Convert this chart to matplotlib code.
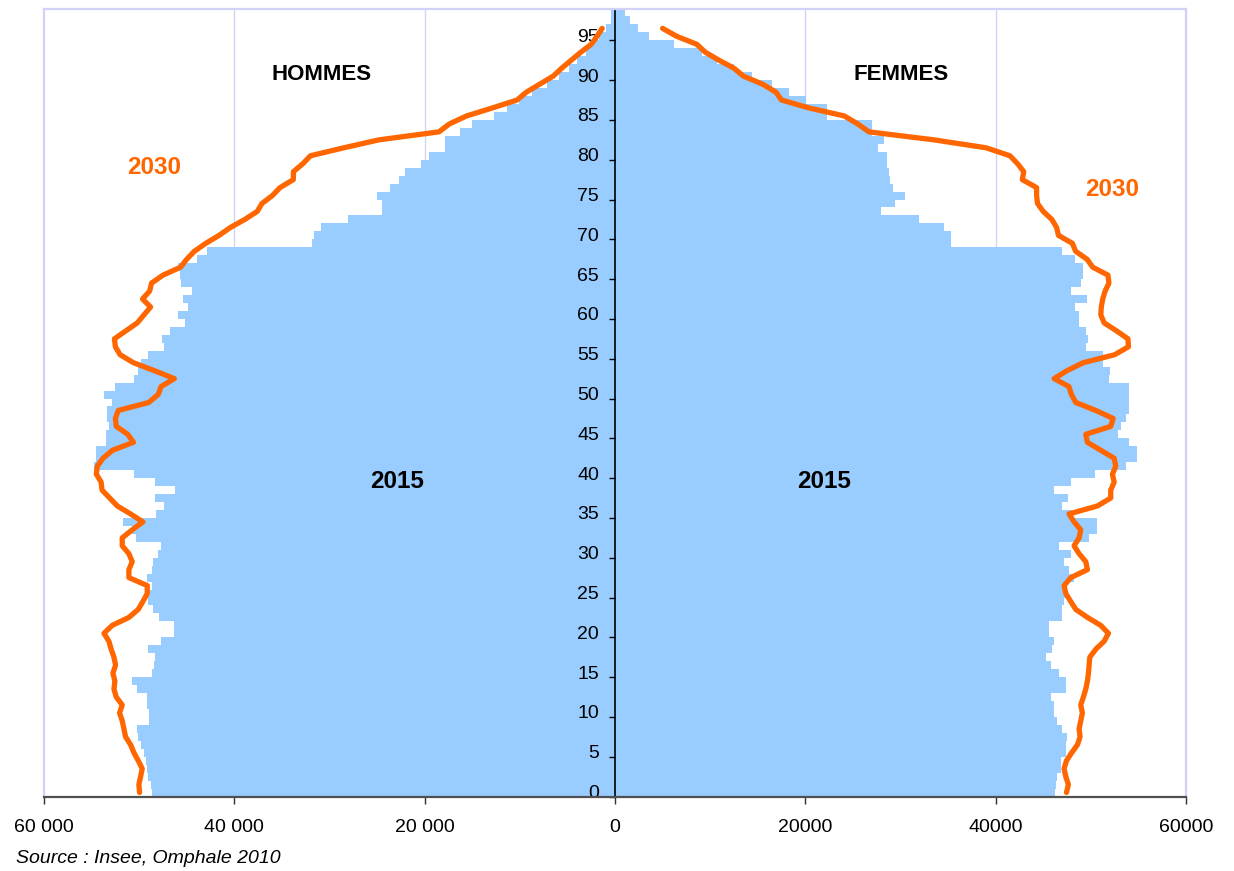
import numpy as np
import matplotlib
matplotlib.use("Agg")
import matplotlib.pyplot as plt
from matplotlib.transforms import ScaledTranslation

# ---------------- data ----------------
ages = list(range(99))

hommes_2015 = [
    48630, 48800, 49080, 49150, 49330, 49500, 49850, 50090, 50200, 48980,
    48980, 49150, 49150, 50200, 50730, 48700, 48460, 48350, 49050, 47750,
    46350, 46350, 47930, 48560, 49050, 49050, 48630, 49150, 48700, 48560,
    48000, 47750, 50300, 50800, 51710, 48280, 47400, 48350, 46240, 48350,
    50550, 54760, 54580, 54510, 53530, 53530, 53180, 53360, 53360, 52830,
    53700, 52550, 50550, 50100, 49850, 49050, 47400, 47580, 46770, 45200,
    45900, 44840, 45370, 44420, 45650, 45760, 45900, 43900, 42850, 31880,
    31640, 30900, 28030, 24460, 24460, 24980, 23680, 22700, 22070, 20420,
    19550, 17870, 17870, 16290, 15000, 12720, 11320, 10090, 8690, 7110,
    5890, 4830, 3960, 3080, 2560, 1680, 980, 450, 450,
]

femmes_2015 = [
    46240, 46310, 46400, 46840, 46840, 47370, 47370, 47540, 47010, 46490,
    46140, 46140, 45790, 47370, 47370, 46660, 45790, 45260, 45960, 46140,
    45610, 45610, 47010, 47010, 47190, 47370, 47370, 48240, 47710, 47190,
    47890, 46660, 49820, 50690, 50690, 48060, 47010, 47640, 46140, 47890,
    50450, 53740, 54900, 54900, 54020, 52900, 53140, 53670, 54020, 54020,
    53990, 53990, 51920, 52030, 51290, 51290, 49470, 49750, 49540, 48770,
    48770, 48350, 49570, 47960, 48940, 49220, 49220, 48310, 47010, 35310,
    35310, 34580, 31950, 27960, 29430, 30480, 29220, 28870, 28800, 28620,
    28620, 27680, 28270, 27000, 27000, 22300, 22300, 20040, 18290, 16540,
    14440, 12510, 10760, 9180, 6200, 3570, 2420, 1540, 1100,
]

ages_2030 = list(range(97))

hommes_2030 = [
    49960, 50030, 49850, 49680, 50100, 50550, 50900, 51430, 51600, 51780,
    52060, 51780, 52410, 52650, 52550, 52760, 52480, 52650, 52940, 53180,
    53700, 52830, 51080, 50100, 49610, 49150, 49150, 51080, 51080, 50730,
    51080, 51780, 51780, 50730, 49610, 50900, 52300, 53100, 53900, 54000,
    54500, 54400, 53800, 52800, 50600, 51200, 52400, 52500, 52200, 49000,
    48000, 47700, 46300, 48400, 50600, 52000, 52500, 52600, 51400, 50200,
    49500, 48800, 49650, 48900, 48700, 47500, 45650, 45000, 44200, 43000,
    41600, 40400, 38900, 37600, 37100, 36000, 35200, 33800, 33790, 32800,
    32000, 28500, 24800, 18500, 17400, 15600, 12900, 10300, 9300, 7900,
    6500, 5600, 4600, 3600, 2500, 1900, 1350,
]

femmes_2030 = [
    47440, 47640, 47370, 47190, 47440, 47990, 48590, 48870, 48770, 48940,
    49110, 48940, 49220, 49470, 49640, 49750, 49820, 49890, 50520, 51390,
    51850, 51040, 49640, 48420, 47890, 47370, 47190, 47890, 49640, 49470,
    48770, 48240, 48770, 48940, 48240, 47710, 50690, 52090, 52090, 52450,
    52270, 52620, 52450, 51040, 49640, 49470, 52090, 52340, 50520, 48420,
    47960, 47700, 46140, 47500, 49200, 52500, 53950, 53900, 52700, 51400,
    51050, 51100, 51250, 51500, 51900, 51800, 50200, 49600, 48400, 48060,
    46600, 46400, 45900, 45000, 44400, 44300, 44300, 42800, 42950, 42300,
    41500, 39000, 33500, 26700, 25500, 24100, 20400, 17500, 16900, 15500,
    13500, 12500, 10930, 9500, 8600, 6500, 5000,
]

x_ticks = [-60000, -40000, -20000, 0, 20000, 40000, 60000]
x_tick_labels = ["60 000", "40 000", "20 000", "0", "20000", "40000", "60000"]
y_ticks = list(range(0, 100, 5))

# ---------------- style ----------------
BAR = "#99CCFF"
ORANGE = "#FF6600"
GRID = "#D2D2F8"
SANS = ["Liberation Sans", "DejaVu Sans"]
plt.rcParams["font.family"] = SANS

W, H = 1234, 871
fig = plt.figure(figsize=(W / 100, H / 100), dpi=100)
left_px, right_px, top_px, bot_px = 44, 1186, 9.3, 796.5
ax = fig.add_axes([left_px / W, 1 - bot_px / H,
                   (right_px - left_px) / W, (bot_px - top_px) / H])

ax.set_xlim(-60000, 60000)
ax.set_ylim(0, 98.9)

# grid lines (behind bars)
for gx in [-40000, -20000, 20000, 40000]:
    ax.axvline(gx, color=GRID, lw=1.0, zorder=0.5)
ax.axvline(-60000, color=GRID, lw=1.6, zorder=0.5, clip_on=False)

# bars 2015
ax.barh(ages, [-v for v in hommes_2015], height=1.0, align="edge",
        color=BAR, edgecolor="none", linewidth=0, zorder=1.5)
ax.barh(ages, femmes_2015, height=1.0, align="edge",
        color=BAR, edgecolor="none", linewidth=0, zorder=1.5)

# lines 2030
y30 = np.array(ages_2030) + 0.5
ax.plot([-v for v in hommes_2030], y30, color=ORANGE, lw=3.8,
        solid_capstyle="round", solid_joinstyle="round", zorder=3)
ax.plot(femmes_2030, y30, color=ORANGE, lw=3.8,
        solid_capstyle="round", solid_joinstyle="round", zorder=3)

# spines
ax.spines["left"].set_position(("data", 0))
ax.spines["left"].set_color("black")
ax.spines["left"].set_linewidth(1.2)
ax.spines["bottom"].set_color("#505050")
ax.spines["bottom"].set_linewidth(1.6)
for s in ["top", "right"]:
    ax.spines[s].set_color(GRID)
    ax.spines[s].set_linewidth(1.6)

ax.set_xticks(x_ticks)
ax.set_xticklabels(x_tick_labels)
ax.set_yticks(y_ticks)
ax.set_yticklabels([str(t) for t in y_ticks])
ax.tick_params(axis="x", direction="out", length=5, width=1.0,
               color="#303030", labelsize=14, pad=11, labelcolor="black")
ax.tick_params(axis="y", direction="out", length=4.5, width=1.0,
               color="black", labelsize=14, pad=7, labelcolor="black")
off = ScaledTranslation(0, 5 / 100, fig.dpi_scale_trans)
for lab in ax.get_yticklabels():
    lab.set_transform(lab.get_transform() + off)
    lab.set_zorder(4)

# texts
def ptext(x, y, s, **kw):
    fig.text(x / W, 1 - y / H, s, **kw)

ptext(322, 75, "HOMMES", ha="center", va="center", fontsize=16,
      fontweight="bold", color="black")
ptext(901, 75, "FEMMES", ha="center", va="center", fontsize=16,
      fontweight="bold", color="black")
ptext(154, 167, "2030", ha="center", va="center", fontsize=17.5,
      fontweight="bold", color=ORANGE)
ptext(1112, 190, "2030", ha="center", va="center", fontsize=17.5,
      fontweight="bold", color=ORANGE)
ptext(397, 481, "2015", ha="center", va="center", fontsize=17.5,
      fontweight="bold", color="black")
ptext(824, 481, "2015", ha="center", va="center", fontsize=17.5,
      fontweight="bold", color="black")
ptext(16, 858, "Source : Insee, Omphale 2010", ha="left", va="center",
      fontsize=14, style="italic", color="black")

fig.savefig("out.png", dpi=100)
